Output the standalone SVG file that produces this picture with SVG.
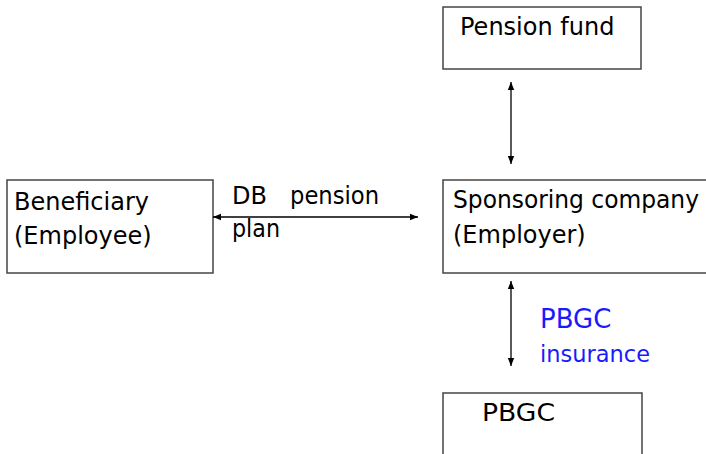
<svg xmlns="http://www.w3.org/2000/svg" width="706" height="454" viewBox="0 0 706 454">
<defs>
<style>
.box{fill:#fff;stroke:#444;stroke-width:1.5}
.t{font-family:"DejaVu Sans",sans-serif;font-size:24px;fill:#000}
.b{font-family:"DejaVu Sans",sans-serif;fill:#1a1aff}
.c{stroke:#000;stroke-width:1.3;fill:none}
</style>
<marker id="ah" viewBox="0 0 10 10" refX="10" refY="5" markerWidth="8" markerHeight="8" markerUnits="userSpaceOnUse" orient="auto-start-reverse">
<path d="M0,1 L10,5 L0,9 Z" fill="#000"/>
</marker>
</defs>
<rect width="706" height="454" fill="#fff"/>
<g id="pension-fund">
<rect class="box" x="443" y="7" width="198" height="62"/>
<text class="t" x="460" y="35">Pension fund</text>
</g>
<g id="beneficiary">
<rect class="box" x="7" y="180" width="206" height="93"/>
<text class="t" x="14" y="210">Beneficiary</text>
<text class="t" x="14" y="244">(Employee)</text>
</g>
<g id="sponsor">
<rect class="box" x="443" y="180" width="280" height="93"/>
<text class="t" x="453" y="208" textLength="246" lengthAdjust="spacingAndGlyphs">Sponsoring company</text>
<text class="t" x="453" y="243">(Employer)</text>
</g>
<g id="pbgc">
<rect class="box" x="443" y="393" width="199" height="80"/>
<text class="t" x="482" y="421" textLength="73" lengthAdjust="spacingAndGlyphs">PBGC</text>
</g>
<g id="connectors">
<line class="c" x1="511" y1="82" x2="511" y2="164" marker-start="url(#ah)" marker-end="url(#ah)"/>
<line class="c" x1="213" y1="217" x2="418" y2="217" marker-start="url(#ah)" marker-end="url(#ah)"/>
<line class="c" x1="511" y1="281" x2="511" y2="366" marker-start="url(#ah)" marker-end="url(#ah)"/>
<text class="t" x="232" y="204">DB</text>
<text class="t" x="290" y="204" textLength="89" lengthAdjust="spacingAndGlyphs">pension</text>
<text class="t" x="232" y="237" textLength="48" lengthAdjust="spacingAndGlyphs">plan</text>
<text class="b" x="540" y="328" font-size="26">PBGC</text>
<text class="b" x="540" y="362" font-size="22.5">insurance</text>
</g>
</svg>
